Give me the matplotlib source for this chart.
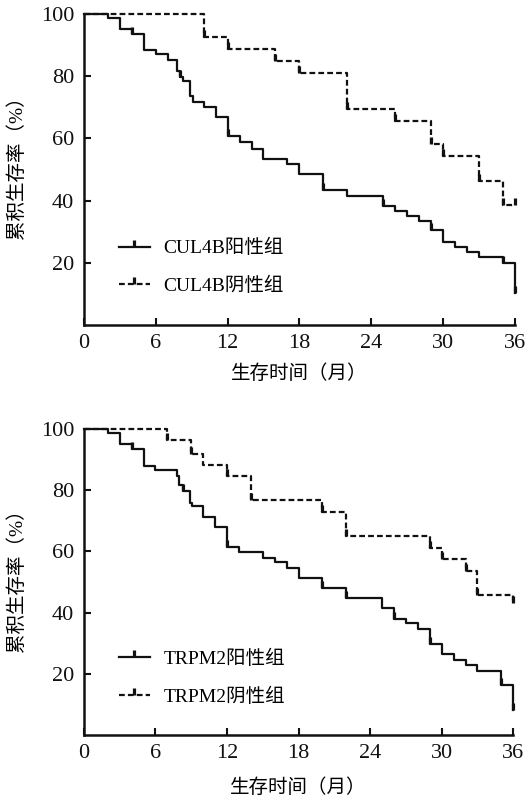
import matplotlib
matplotlib.use('Agg')
import matplotlib.pyplot as plt
from matplotlib.lines import Line2D
from matplotlib.markers import TICKUP
import numpy as np

plt.rcParams['font.family'] = ['Liberation Serif', 'Noto Sans CJK SC']

# 生存时间 (月) / 累积生存率 (%)
cul4b_pos_t = [0, 2, 3, 4, 5, 6, 7, 7.8, 8, 8.3, 8.9, 9.1, 10, 11, 12, 13, 14, 15, 17, 18,
               20, 22, 25, 26, 27, 28, 29, 30, 31, 32, 33, 35, 36]
cul4b_pos_s = [100, 98.6, 95.1, 93.5, 88.3, 87.0, 85.1, 81.6, 79.8, 78.4, 73.5, 71.6, 70.1,
               66.9, 60.6, 58.7, 56.7, 53.4, 51.8, 48.4, 43.5, 41.6, 38.4, 36.8, 35.2, 33.6,
               30.4, 26.8, 25.2, 23.4, 21.8, 20.1, 10.2]
cul4b_pos_cens = [4, 8, 12, 20, 25, 29, 35, 36]

cul4b_neg_t = [0, 10, 12, 16, 18, 22, 26, 29, 30, 33, 35, 36]
cul4b_neg_s = [100, 92.6, 88.6, 84.8, 81.0, 69.5, 65.5, 58.0, 54.2, 46.2, 38.6, 38.6]
cul4b_neg_cens = [10, 12, 16, 18, 22, 26, 29, 30, 33, 35, 36]

trpm2_pos_t = [0, 2, 3, 4, 5, 6, 7.8, 8, 8.3, 8.9, 9.1, 10, 11, 12, 13, 15, 16, 17, 18,
               20, 22, 25, 26, 27, 28, 29, 30, 31, 32, 33, 35, 36]
trpm2_pos_s = [100, 98.6, 95.0, 93.4, 87.9, 86.6, 84.4, 81.7, 79.7, 75.7, 74.6, 71.3, 67.8,
               61.5, 59.9, 57.9, 56.6, 54.5, 51.2, 47.9, 44.9, 41.4, 37.9, 36.5, 34.5, 29.7,
               26.5, 24.5, 22.9, 20.9, 16.3, 8.2]
trpm2_pos_cens = [4, 8.3, 12, 20, 22, 26, 29, 35, 36]

trpm2_neg_t = [0, 7, 9, 10, 12, 14, 20, 22, 29, 30, 32, 33, 36]
trpm2_neg_s = [100, 96.1, 91.7, 88.2, 84.4, 76.6, 72.8, 65.1, 61.2, 57.4, 53.6, 45.8, 43.0]
trpm2_neg_cens = [7, 9, 12, 14, 20, 22, 29, 30, 32, 33, 36]

x_ticks = [0, 6, 12, 18, 24, 30, 36]
y_ticks = [20, 40, 60, 80, 100]
xlabel = '生存时间（月）'
ylabel = '累积生存率（%）'

panels = [
    dict(pos=(cul4b_pos_t, cul4b_pos_s, cul4b_pos_cens),
         neg=(cul4b_neg_t, cul4b_neg_s, cul4b_neg_cens),
         labels=['CUL4B阳性组', 'CUL4B阴性组'],
         rect=[0.159, 0.594, 0.816, 0.389], xlab_y=-0.125),
    dict(pos=(trpm2_pos_t, trpm2_pos_s, trpm2_pos_cens),
         neg=(trpm2_neg_t, trpm2_neg_s, trpm2_neg_cens),
         labels=['TRPM2阳性组', 'TRPM2阴性组'],
         rect=[0.159, 0.082, 0.813, 0.383], xlab_y=-0.14),
]

fig = plt.figure(figsize=(5.28, 8.01), dpi=100)
lw = 1.6
dash = (0, (2.6, 1.4))
ink = '#111111'

for p in panels:
    ax = fig.add_axes(p['rect'])
    for (t, s, cens), ls in [(p['pos'], '-'), (p['neg'], dash)]:
        ax.step(t, s, where='post', color=ink, lw=lw, linestyle=ls, clip_on=False)
        # censored marks
        idx = np.searchsorted(t, cens, side='right') - 1
        ax.plot(cens, np.array(s)[idx], ls='none', marker=TICKUP, ms=5, mew=2.3,
                color=ink, clip_on=False)

    ax.set_xlim(0, 36)
    ax.set_ylim(0, 100)
    ax.set_xticks(x_ticks)
    ax.set_yticks(y_ticks)
    ax.spines['top'].set_visible(False)
    ax.spines['right'].set_visible(False)
    for sp in ['left', 'bottom']:
        ax.spines[sp].set_linewidth(1.8)
        ax.spines[sp].set_color(ink)
    ax.tick_params(direction='in', length=5, width=1.5, labelsize=16, pad=6, colors=ink)
    ax.tick_params(axis='y', pad=7)

    ax.set_xlabel(xlabel, fontsize=14)
    ax.set_ylabel(ylabel, fontsize=14)
    ax.xaxis.set_label_coords(0.5, p['xlab_y'])
    ax.yaxis.set_label_coords(-0.135, 0.52)

    handles = [
        Line2D([], [], color=ink, lw=lw, ls='-', marker=TICKUP, ms=5, mew=2.3),
        Line2D([], [], color=ink, lw=lw, ls=dash, marker=TICKUP, ms=5, mew=2.3),
    ]
    ax.legend(handles, p['labels'], loc='lower left', bbox_to_anchor=(0.04, 0.04),
              frameon=False, fontsize=14, handlelength=1.6, handletextpad=0.7,
              labelspacing=1.0, numpoints=1)

plt.savefig('out.png', dpi=100)
